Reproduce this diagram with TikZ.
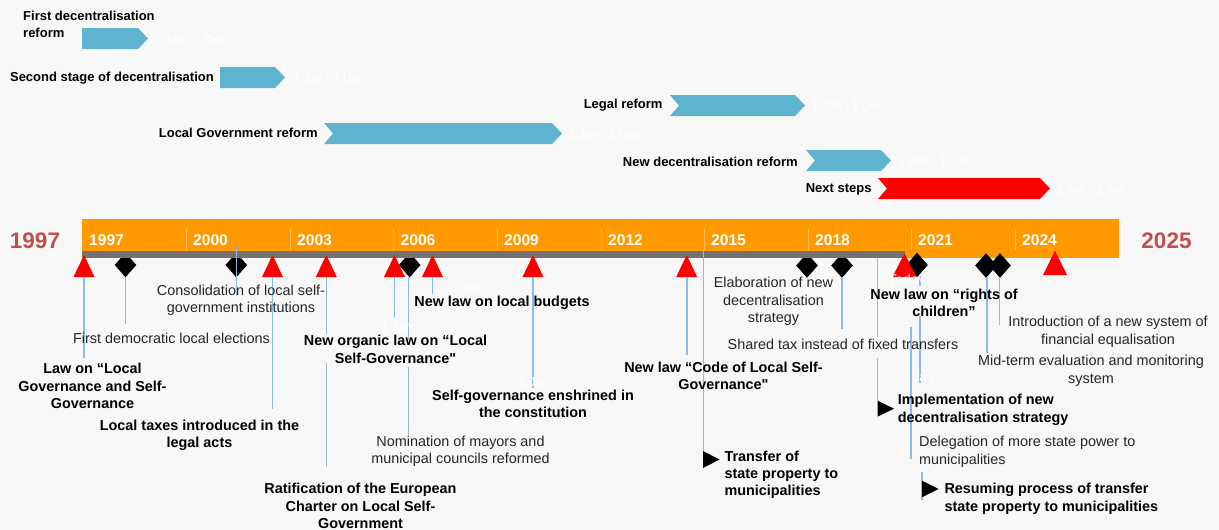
\documentclass[tikz,border=0pt]{standalone}
\usepackage{fontspec}
\setmainfont{Liberation Sans}[Ligatures=TeXOff]
\definecolor{bg}{HTML}{F7F7F7}
\definecolor{band}{HTML}{FF9900}
\definecolor{bargray}{HTML}{767171}
\definecolor{barblue}{HTML}{5EB3CE}
\definecolor{lblue}{HTML}{8DBCE3}
\definecolor{yearred}{HTML}{C0504D}
\definecolor{txt}{HTML}{262626}
\newcommand\chevflat[4]{\fill[#4] (#1,#3) -- (#2-10,#3) -- (#2,#3+10.5) -- (#2-10,#3+21) -- (#1,#3+21) -- cycle;}
\newcommand\chevnotch[4]{\fill[#4] (#1,#3) -- (#2-10,#3) -- (#2,#3+10.5) -- (#2-10,#3+21) -- (#1,#3+21) -- (#1+9,#3+10.5) -- cycle;}
\newcommand\redtri[4]{\fill[red] (#1-#4,#3) -- (#1,#2) -- (#1+#4,#3) -- cycle;}
\newcommand\bdia[2]{\fill[black] (#1-10.8,#2) -- (#1,#2-12.3) -- (#1+10.8,#2) -- (#1,#2+12.3) -- cycle;}
\newcommand\rtri[3]{\fill[black] (#1,#2) -- (#1+16.5,#2/2+#3/2) -- (#1,#3) -- cycle;}
\tikzset{
  lbl/.style={inner sep=0, align=center, text=txt, font=\fontsize{14.4}{17.4}\selectfont},
  blbl/.style={inner sep=0, align=center, text=black, font=\fontsize{14.4}{17.4}\selectfont\bfseries},
  bll/.style={blbl, align=left, anchor=west},
  nll/.style={lbl, align=left, anchor=west},
  barlbl/.style={inner sep=0, text=black, font=\fontsize{13}{16.5}\selectfont\bfseries},
  wdate/.style={inner sep=0, text=white, font=\fontsize{12}{14}\selectfont, anchor=west},
  wjan/.style={inner sep=0, text=white, font=\fontsize{12.7}{15}\selectfont},
  yr/.style={inner sep=0, text=white, font=\fontsize{15.6}{18}\selectfont\bfseries, anchor=west},
  bigyr/.style={inner sep=0, text=yearred, font=\fontsize{22.5}{26}\selectfont\bfseries},
  conn/.style={draw=lblue, line width=1.3},
}
\begin{document}
\begin{tikzpicture}[x=1pt,y=-1pt]
\useasboundingbox (0,0) rectangle (1219,530);
\fill[bg] (0,0) rectangle (1219,530);

% Gantt bars
\chevflat{82}{148}{28}{barblue}
\chevflat{220}{285}{67}{barblue}
\chevnotch{324}{562}{123}{barblue}
\chevnotch{670}{805}{95}{barblue}
\chevnotch{806}{891}{150}{barblue}
\chevnotch{878}{1050}{178}{red}

\node[barlbl, align=left, anchor=west] (b1) at (23,24.5) {First decentralisation\\reform};
\node[barlbl, anchor=east] (b2) at (214,78.3) {Second stage of decentralisation};
\node[barlbl, anchor=east] (b3) at (318,133.3) {Local Government reform};
\node[barlbl, anchor=east] (b4) at (662.7,105.5) {Legal reform};
\node[barlbl, anchor=east] (b5) at (798,161.5) {New decentralisation reform};
\node[barlbl, anchor=east] (b6) at (871.7,189) {Next steps};

\node[wdate] (d1) at (154,39) {1 Jan - 1 Dec};
\node[wdate] (d2) at (293,78.3) {1 Jan - 1 Dec};
\node[wdate] (d3) at (569,134) {1 Jan - 1 Dec};
\node[wdate] (d4) at (812,105.5) {1 Jan - 1 Dec};
\node[wdate] (d5) at (898,161) {1 Dec - 1 Jun};
\node[wdate] (d6) at (1056,189) {1 Jan - 1 Jan};

% Timeline band
\fill[band] (82,219) rectangle (1119,258);
\foreach \x in {186,290,393,497,601,704,808,911,1015}
  \draw[white, opacity=0.35, line width=1] (\x,229) -- (\x,250);
\foreach \x/\y in {89/1997,193/2000,297/2003,400.5/2006,504/2009,608/2012,711/2015,815/2018,918/2021,1022/2024}
  \node[yr] at (\x,240.3) {\y};
\node[bigyr] (y0) at (35,241) {1997};
\node[bigyr] (y1) at (1166.5,240.7) {2025};

% diamonds (under gray bar)
\bdia{125.5}{265}
\bdia{236.3}{265}
\bdia{409.7}{265}
\bdia{807}{265.5}
\bdia{842}{265.5}
\bdia{917}{265}
\bdia{986}{265.5}
\bdia{1000}{265.5}
\fill[bargray] (82,251) rectangle (905,258);

% triangles
\redtri{84}{255}{277}{10.5}
\redtri{272.5}{255}{277}{10.5}
\redtri{326.3}{255}{277}{10.5}
\redtri{394.5}{255}{277}{10.5}
\redtri{432.5}{255}{277}{10.5}
\redtri{533}{255}{277}{10.5}
\redtri{686.7}{255}{277}{10.5}
\redtri{904.5}{253.3}{277}{12}
\redtri{1055}{250.7}{275}{12}

% connector coordinates and lines
\coordinate (a1) at (84,277);     \coordinate (a1e) at (84,358);
\coordinate (a2) at (125.5,277);  \coordinate (a2e) at (125.5,324);
\coordinate (a3) at (236.3,246);  \coordinate (a3e) at (236.3,296);
\coordinate (a4) at (272.5,277);  \coordinate (a4e) at (272.5,409);
\coordinate (a5) at (326.3,277);  \coordinate (a5m) at (326.3,334);
\coordinate (a5n) at (326.3,363); \coordinate (a5e) at (326.3,467);
\coordinate (a6) at (394.5,277);  \coordinate (a6e) at (394.5,317);
\coordinate (a7) at (408.5,277);  \coordinate (a7m) at (408.5,340);
\coordinate (a7n) at (408.5,367); \coordinate (a7e) at (408.5,435);
\coordinate (a8) at (432.5,277);  \coordinate (a8e) at (432.5,294);
\coordinate (a9) at (533,277);    \coordinate (a9e) at (533,388);
\coordinate (a10) at (687,277);   \coordinate (a10e) at (687,355);
\coordinate (a11) at (703.5,248); \coordinate (a11e) at (703.5,452);
\coordinate (a12) at (842,277);   \coordinate (a12e) at (842,329);
\coordinate (a13) at (877.5,258); \coordinate (a13m) at (877.5,337);
\coordinate (a13n) at (877.5,358);\coordinate (a13e) at (877.5,401);
\coordinate (a14) at (920,276);   \coordinate (a14m) at (920,287);
\coordinate (a14n) at (920,316);  \coordinate (a14e) at (920,383);
\coordinate (a15) at (911,327);   \coordinate (a15e) at (911,459);
\coordinate (a16) at (922,472);   \coordinate (a16e) at (922,500);
\coordinate (a17) at (987,277);   \coordinate (a17e) at (987,353);
\coordinate (a18) at (999.5,277); \coordinate (a18e) at (999.5,325);

\draw[conn] (a1) -- (a1e);
\draw[conn] (a2) -- (a2e);
\draw[conn] (a3) -- (a3e);
\draw[conn] (a4) -- (a4e);
\draw[conn] (a5) -- (a5m); \draw[conn] (a5n) -- (a5e);
\draw[conn] (a6) -- (a6e);
\draw[conn] (a7) -- (a7m); \draw[conn] (a7n) -- (a7e);
\draw[conn] (a8) -- (a8e);
\draw[conn] (a9) -- (a9e);
\draw[conn] (a10) -- (a10e);
\draw[conn] (a11) -- (a11e);
\draw[conn] (a12) -- (a12e);
\draw[conn] (a13) -- (a13m); \draw[conn] (a13n) -- (a13e);
\draw[conn] (a14) -- (a14m); \draw[conn] (a14n) -- (a14e);
\draw[conn] (a15) -- (a15e);
\draw[conn] (a16) -- (a16e);
\draw[conn] (a17) -- (a17e);
\draw[conn] (a18) -- (a18e);

% black pointers
\rtri{703}{451}{468}
\rtri{877.5}{400.7}{416.7}
\rtri{922}{480.7}{497.3}

% labels
\node[blbl] (t1) at (92.5,386) {Law on “Local\\Governance and Self-\\Governance};
\node[lbl] (t2) at (171.5,338) {First democratic local elections};
\node[lbl] (t3) at (241,300.5) {Consolidation of local self-\\government institutions};
\node[blbl] (t4) at (199.5,435.5) {Local taxes introduced in the\\legal acts};
\node[blbl] (t5) at (360.5,506) {Ratification of the European\\Charter on Local Self-\\Government};
\node[blbl] (t6) at (395.5,349.5) {New organic law on “Local\\Self-Governance"};
\node[lbl] (t7) at (460.5,451.5) {Nomination of mayors and\\municipal councils reformed};
\node[blbl] (t8) at (502,303.3) {New law on local budgets};
\node[blbl] (t9) at (533,403.7) {Self-governance enshrined in\\the constitution};
\node[blbl] (t10) at (723.5,376) {New law “Code of Local Self-\\Governance"};
\node[bll] (t11) at (724.3,474.7) {Transfer of\\state property to\\municipalities};
\node[lbl] (t12) at (773.5,301.5) {Elaboration of new\\decentralisation\\strategy};
\node[lbl] (t13) at (843,344.3) {Shared tax instead of fixed transfers};
\node[blbl] (t14) at (944,302.7) {New law on “rights of\\children”};
\node[bll] (t15) at (897.7,410) {Implementation of new\\decentralisation strategy};
\node[nll] (t16) at (919,451.7) {Delegation of more state power to\\municipalities};
\node[bll] (t17) at (944.3,498.8) {Resuming process of transfer\\state property to municipalities};
\node[lbl] (t18) at (1091,370.8) {Mid-term evaluation and monitoring\\system};
\node[lbl] (t19) at (1108,331.7) {Introduction of a new system of\\financial equalisation};

% white date marks
\node[wjan] (j1) at (396.7,327) {1 Jan};
\node[wjan] (j2) at (462.5,289) {1 Jan};
\node[wjan] (j3) at (534,382) {1 Jan};
\node[wjan] (j4) at (918,377) {1 Jan};
\node[wjan, font=\fontsize{14}{16}\selectfont] (j5) at (907,281) {Today};
\end{tikzpicture}
\end{document}
